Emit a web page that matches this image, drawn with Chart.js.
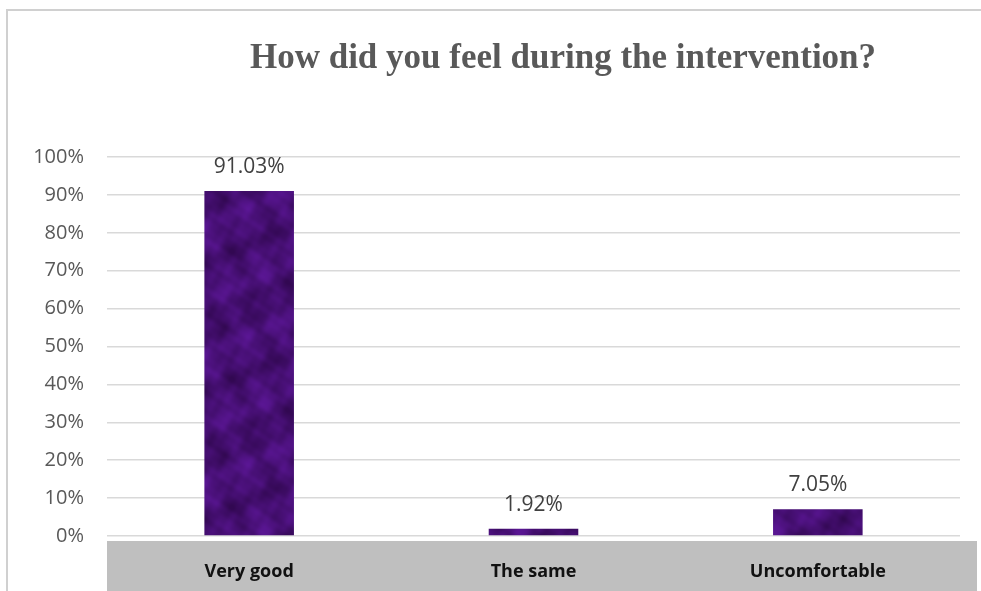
<!DOCTYPE html>
<html>
<head>
<meta charset="utf-8">
<script src="https://cdn.jsdelivr.net/npm/chart.js@4/dist/chart.umd.min.js"></script>
<style>
  html, body { margin: 0; padding: 0; background: #ffffff; }
  #wrap { position: relative; width: 981px; height: 591px; }
</style>
</head>
<body>
<div id="wrap"><canvas id="c" width="981" height="591"></canvas></div>
<script>
const chartTitle = 'How did you feel during the intervention?';
const categories = ['Very good', 'The same', 'Uncomfortable'];
const percentValues = [91.03, 1.92, 7.05];
const valueLabels = ['91.03%', '1.92%', '7.05%'];
const yTickValues = [0, 10, 20, 30, 40, 50, 60, 70, 80, 90, 100];

// deterministic, seamless mottled texture for the bar fill (style only)
function makeTexture() {
  const N = 128, w = 2 * Math.PI / N;
  const t = document.createElement('canvas');
  t.width = N; t.height = N;
  const g = t.getContext('2d');
  const img = g.createImageData(N, N);
  const comps = [
    [1, 2, 0.0, 0.30], [3, -1, 1.3, 0.25], [2, 5, 2.1, 0.18], [-4, 3, 0.7, 0.15],
    [7, 2, 2.9, 0.10], [5, -8, 1.9, 0.08], [11, 6, 0.4, 0.06], [-9, 13, 2.5, 0.05]
  ];
  for (let y = 0; y < N; y++) {
    for (let x = 0; x < N; x++) {
      let v = 0;
      for (const [a, b, p, amp] of comps) v += amp * Math.sin(w * (a * x + b * y) + p);
      const k = Math.max(0, Math.min(1, (v + 0.9) / 1.8));
      const i = (y * N + x) * 4;
      img.data[i]     = Math.round(50 + 40 * k);
      img.data[i + 1] = Math.round(8 + 14 * k);
      img.data[i + 2] = Math.round(82 + 66 * k);
      img.data[i + 3] = 255;
    }
  }
  g.putImageData(img, 0, 0);
  return t;
}
const ctx0 = document.getElementById('c').getContext('2d');
const barFill = ctx0.createPattern(makeTexture(), 'repeat');

const decor = {
  id: 'decor',
  beforeDraw(chart) {
    const { ctx, chartArea } = chart;
    ctx.save();
    // outer frame
    ctx.strokeStyle = '#d0d0d0';
    ctx.lineWidth = 2;
    ctx.beginPath();
    ctx.moveTo(7, 595);
    ctx.lineTo(7, 10);
    ctx.lineTo(990, 10);
    ctx.stroke();
    // gray band behind category labels
    ctx.fillStyle = '#bfbfbf';
    ctx.fillRect(chartArea.left, chartArea.bottom + 5, 977 - chartArea.left, 591 - chartArea.bottom - 5);
    ctx.restore();
  },
  afterDraw(chart) {
    const { ctx } = chart;
    ctx.save();
    ctx.fillStyle = '#595959';
    ctx.font = 'bold 35px "Liberation Serif", serif';
    ctx.textAlign = 'center';
    ctx.textBaseline = 'alphabetic';
    ctx.fillText(chartTitle, 563, 68);
    // value labels
    const meta = chart.getDatasetMeta(0);
    ctx.fillStyle = '#404040';
    ctx.font = '21px "Open Sans", sans-serif';
    meta.data.forEach((bar, i) => {
      ctx.fillText(valueLabels[i], bar.x, bar.y - 18);
    });
    ctx.restore();
  }
};

new Chart(document.getElementById('c'), {
  type: 'bar',
  data: {
    labels: categories,
    datasets: [{
      data: percentValues,
      backgroundColor: barFill,
      borderWidth: 0,
      barPercentage: 0.315,
      categoryPercentage: 1.0
    }]
  },
  options: {
    responsive: false,
    animation: false,
    devicePixelRatio: 1,
    layout: { padding: { top: 157, right: 21, left: 0, bottom: 0 } },
    plugins: { legend: { display: false }, tooltip: { enabled: false }, title: { display: false } },
    scales: {
      x: {
        afterFit(scale) { scale.height = 55; },
        grid: { display: false, drawTicks: false },
        border: { display: false },
        ticks: { color: '#111111', font: { family: '"Open Sans", sans-serif', size: 18, weight: 'bold' }, padding: 25 }
      },
      y: {
        min: 0, max: 100,
        afterFit(scale) { scale.width = 107; },
        afterBuildTicks(scale) { scale.ticks = yTickValues.map(v => ({ value: v })); },
        grid: { color: '#d9d9d9', lineWidth: 1.5, drawTicks: false },
        border: { display: false },
        ticks: {
          color: '#595959',
          font: { family: '"Open Sans", sans-serif', size: 20 },
          padding: 23,
          callback: v => v + '%'
        }
      }
    }
  },
  plugins: [decor]
});
</script>
</body>
</html>
